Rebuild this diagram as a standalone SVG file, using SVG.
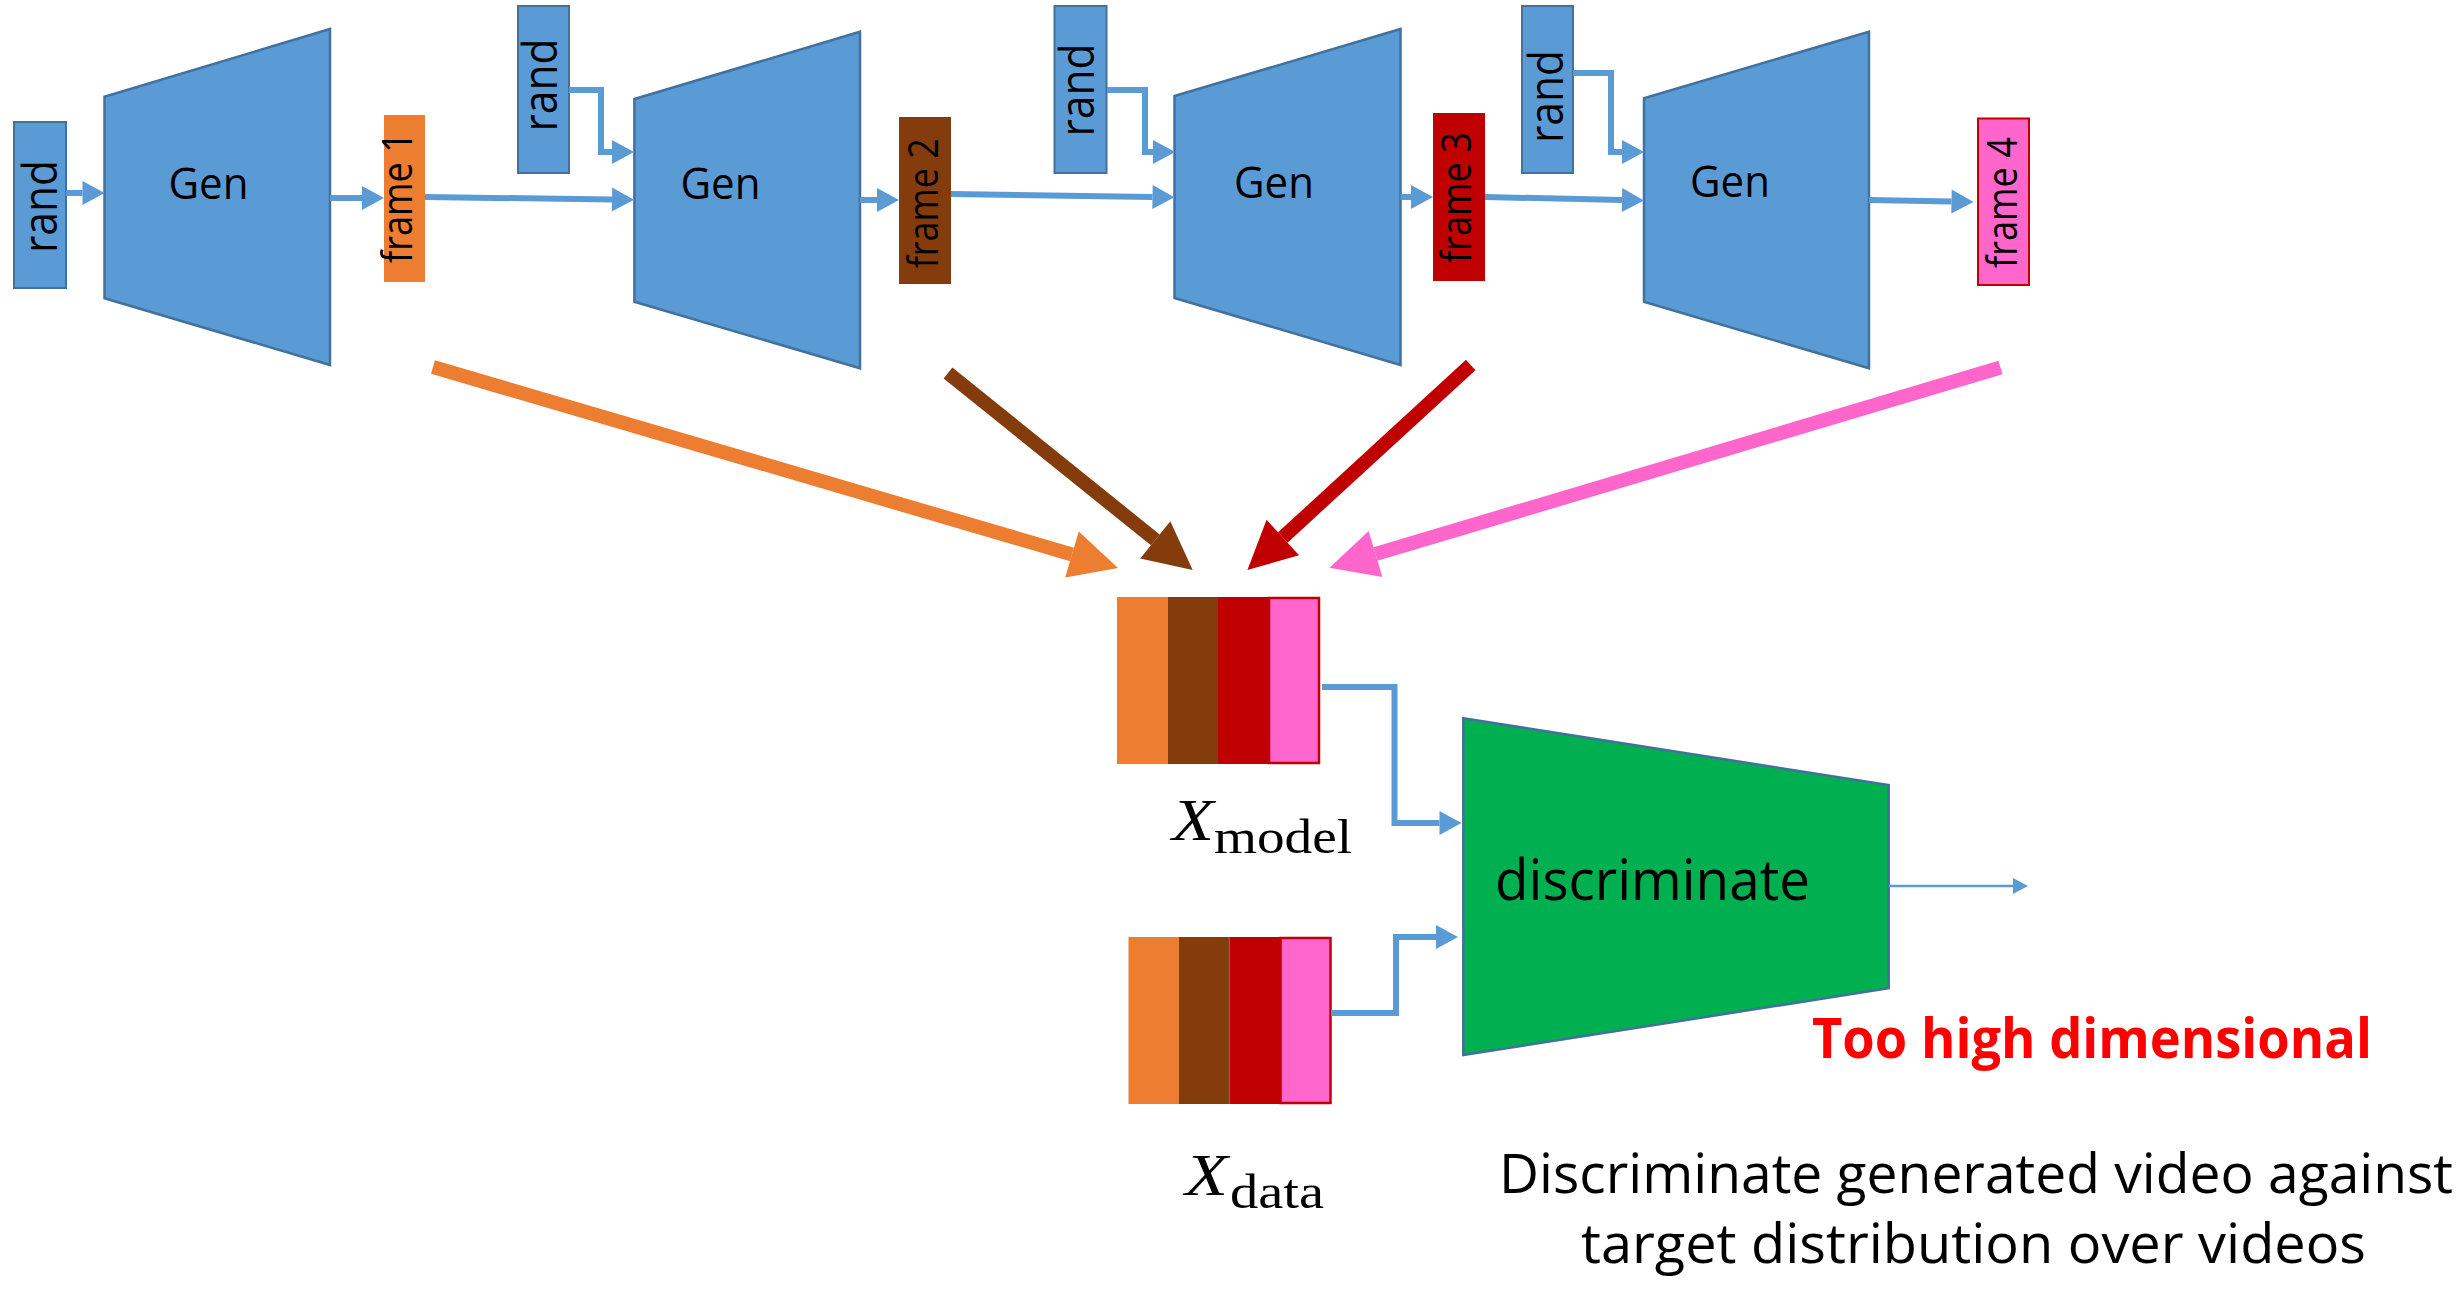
<svg xmlns="http://www.w3.org/2000/svg" width="2460" height="1291" viewBox="0 0 2460 1291">
<style>
.blk{fill:#5B9BD5;stroke:#41719C;stroke-width:2}
.gen{fill:#5B9BD5;stroke:#41719C;stroke-width:2.5}
.lbl{font-family:"Open Sans","Liberation Sans",sans-serif;fill:#000}
.con{fill:none;stroke:#5B9BD5;stroke-width:6;stroke-linejoin:miter}
.thick{fill:none;stroke-width:14}
.math{font-family:"Liberation Serif",serif;fill:#000}
</style>
<defs>
<marker id="ab" markerUnits="userSpaceOnUse" markerWidth="22" markerHeight="24" refX="0" refY="12" orient="auto" overflow="visible"><path d="M0,0 L22,12 L0,24 z" fill="#5B9BD5"/></marker>
<marker id="abs" markerUnits="userSpaceOnUse" markerWidth="15" markerHeight="16" refX="0" refY="8" orient="auto" overflow="visible"><path d="M0,0 L15,8 L0,16 z" fill="#5B9BD5"/></marker>
<marker id="mo" markerUnits="userSpaceOnUse" markerWidth="48" markerHeight="48" refX="0" refY="24" orient="auto" overflow="visible"><path d="M0,0 L48,24 L0,48 z" fill="#ED7D31"/></marker>
<marker id="mb" markerUnits="userSpaceOnUse" markerWidth="48" markerHeight="48" refX="0" refY="24" orient="auto" overflow="visible"><path d="M0,0 L48,24 L0,48 z" fill="#843C0C"/></marker>
<marker id="mr" markerUnits="userSpaceOnUse" markerWidth="48" markerHeight="48" refX="0" refY="24" orient="auto" overflow="visible"><path d="M0,0 L48,24 L0,48 z" fill="#C00000"/></marker>
<marker id="mp" markerUnits="userSpaceOnUse" markerWidth="48" markerHeight="48" refX="0" refY="24" orient="auto" overflow="visible"><path d="M0,0 L48,24 L0,48 z" fill="#FF66CC"/></marker>
</defs>
<rect width="2460" height="1291" fill="#fff"/>

<g id="rand1"><rect class="blk" x="14" y="122" width="52" height="166"/><text class="lbl" font-size="48" text-anchor="middle" textLength="93" lengthAdjust="spacingAndGlyphs" transform="translate(57,206.5) rotate(-90)">rand</text></g>
<g id="gen1"><polygon class="gen" points="104.5,96.7 330,29 330,365 104.5,298.3"/><text class="lbl" font-size="44" x="208.5" y="199" text-anchor="middle" textLength="80" lengthAdjust="spacingAndGlyphs">Gen</text></g>
<g id="frame1"><rect x="384" y="115" width="41" height="167" fill="#ED7D31"/><text class="lbl" font-size="42" text-anchor="middle" textLength="131" lengthAdjust="spacingAndGlyphs" transform="translate(412,197.5) rotate(-90)">frame 1</text></g>

<g id="rand2"><rect class="blk" x="518" y="6" width="51" height="167"/><text class="lbl" font-size="48" text-anchor="middle" textLength="93" lengthAdjust="spacingAndGlyphs" transform="translate(557,85) rotate(-90)">rand</text></g>
<g id="gen2"><polygon class="gen" points="634.4,99 860,31.7 860,368.3 634.4,301.7"/><text class="lbl" font-size="44" x="720.5" y="199" text-anchor="middle" textLength="80" lengthAdjust="spacingAndGlyphs">Gen</text></g>
<g id="frame2"><rect x="899" y="117" width="52" height="167" fill="#843C0C"/><text class="lbl" font-size="42" text-anchor="middle" textLength="130" lengthAdjust="spacingAndGlyphs" transform="translate(938,203.3) rotate(-90)">frame 2</text></g>

<g id="rand3"><rect class="blk" x="1054.5" y="6" width="52" height="167"/><text class="lbl" font-size="48" text-anchor="middle" textLength="93" lengthAdjust="spacingAndGlyphs" transform="translate(1094,90) rotate(-90)">rand</text></g>
<g id="gen3"><polygon class="gen" points="1174.5,96 1400.5,29 1400.5,365 1174.5,298"/><text class="lbl" font-size="44" x="1274" y="198" text-anchor="middle" textLength="80" lengthAdjust="spacingAndGlyphs">Gen</text></g>
<g id="frame3"><rect x="1433" y="113" width="52" height="168" fill="#C00000"/><text class="lbl" font-size="42" text-anchor="middle" textLength="131" lengthAdjust="spacingAndGlyphs" transform="translate(1471,197.5) rotate(-90)">frame 3</text></g>

<g id="rand4"><rect class="blk" x="1522" y="6" width="51" height="167"/><text class="lbl" font-size="48" text-anchor="middle" textLength="93" lengthAdjust="spacingAndGlyphs" transform="translate(1563,96.5) rotate(-90)">rand</text></g>
<g id="gen4"><polygon class="gen" points="1644,98.3 1869,31.7 1869,368.3 1644,301.7"/><text class="lbl" font-size="44" x="1730" y="197" text-anchor="middle" textLength="80" lengthAdjust="spacingAndGlyphs">Gen</text></g>
<g id="frame4"><rect x="1978" y="118.5" width="51" height="166.5" fill="#FF66CC" stroke="#C00000" stroke-width="2"/><text class="lbl" font-size="42" text-anchor="middle" textLength="131" lengthAdjust="spacingAndGlyphs" transform="translate(2017,202.5) rotate(-90)">frame 4</text></g>

<g id="xmodel">
<rect x="1117" y="597" width="51" height="167" fill="#ED7D31"/>
<rect x="1168" y="597" width="50" height="167" fill="#843C0C"/>
<rect x="1218" y="597" width="51" height="167" fill="#C00000"/>
<rect x="1269" y="598" width="50" height="165" fill="#FF66CC" stroke="#C00000" stroke-width="2.5"/>
<text class="math" font-size="60" font-style="italic" x="1172" y="840" textLength="42" lengthAdjust="spacingAndGlyphs">X</text>
<text class="math" font-size="48" x="1214" y="853" textLength="138" lengthAdjust="spacingAndGlyphs">model</text>
</g>
<g id="xdata">
<rect x="1128.5" y="937" width="50.5" height="167" fill="#ED7D31"/>
<rect x="1179" y="937" width="50.5" height="167" fill="#843C0C"/>
<rect x="1229.5" y="937" width="51" height="167" fill="#C00000"/>
<rect x="1280.5" y="938" width="50" height="165" fill="#FF66CC" stroke="#C00000" stroke-width="2.5"/>
<text class="math" font-size="60" font-style="italic" x="1185" y="1195" textLength="43" lengthAdjust="spacingAndGlyphs">X</text>
<text class="math" font-size="48" x="1230" y="1208" textLength="94" lengthAdjust="spacingAndGlyphs">data</text>
</g>
<g id="discriminator"><polygon points="1463.3,718.3 1888.7,785 1888.7,988.3 1463.3,1055" fill="#00B050" stroke="#41719C" stroke-width="2.5"/><text class="lbl" font-size="56" x="1495" y="900" textLength="315" lengthAdjust="spacingAndGlyphs">discriminate</text></g>

<g id="notes">
<text font-family="'Open Sans','Liberation Sans',sans-serif" font-weight="bold" font-size="56" fill="#FF0000" x="1812" y="1058" textLength="560" lengthAdjust="spacingAndGlyphs">Too high dimensional</text>
<text class="lbl" font-size="54" x="1499" y="1193" textLength="954" lengthAdjust="spacingAndGlyphs">Discriminate generated video against</text>
<text class="lbl" font-size="54" x="1581" y="1263" textLength="785" lengthAdjust="spacingAndGlyphs">target distribution over videos</text>
</g>

<g id="connectors">
<path class="con" d="M66,193 H82.5" marker-end="url(#ab)"/>
<path class="con" d="M330,198 H362" marker-end="url(#ab)"/>
<path class="con" d="M425,197 L612,199.5" marker-end="url(#ab)"/>
<path class="con" d="M569,90 H601 V152 H612" marker-end="url(#ab)"/>
<path class="con" d="M860,200 H877" marker-end="url(#ab)"/>
<path class="con" d="M951,194 L1152.5,197" marker-end="url(#ab)"/>
<path class="con" d="M1107,90 H1145 V152 H1153" marker-end="url(#ab)"/>
<path class="con" d="M1400.5,197 H1411" marker-end="url(#ab)"/>
<path class="con" d="M1573,73 H1611 V152 H1622" marker-end="url(#ab)"/>
<path class="con" d="M1485,197 L1622,200" marker-end="url(#ab)"/>
<path class="con" d="M1869,200 L1951.5,201.5" marker-end="url(#ab)"/>
<path class="con" d="M1322,687 H1394.5 V823 H1439.5" marker-end="url(#ab)"/>
<path class="con" d="M1331,1013 H1396 V937 H1436" marker-end="url(#ab)"/>
<path class="con" style="stroke-width:2.5" d="M1889,886 H2013" marker-end="url(#abs)"/>
<path class="thick" stroke="#ED7D31" d="M433,367 L1072,554.5" marker-end="url(#mo)"/>
<path class="thick" stroke="#843C0C" d="M948,373 L1155.3,539.9" marker-end="url(#mb)"/>
<path class="thick" stroke="#C00000" d="M1470.7,365 L1282.8,537.5" marker-end="url(#mr)"/>
<path class="thick" stroke="#FF66CC" d="M2000.5,367.5 L1375.5,554" marker-end="url(#mp)"/>
</g>
</svg>
